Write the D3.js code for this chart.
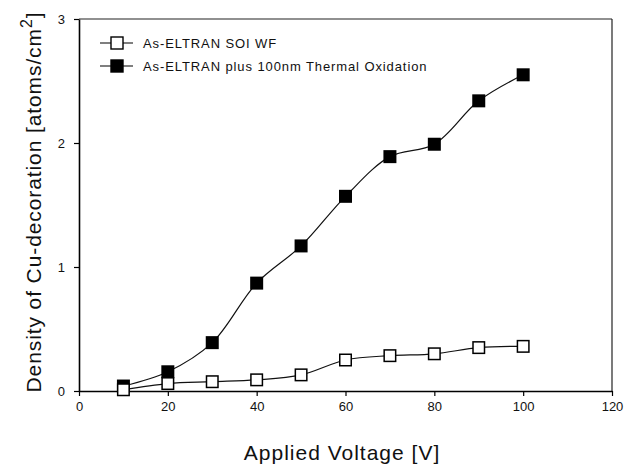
<!DOCTYPE html>
<html>
<head>
<meta charset="utf-8">
<script src="https://cdn.jsdelivr.net/npm/d3@7"></script>
<style>
  body { margin: 0; background: #fff; }
  svg { display: block; font-family: "Liberation Sans", Arial, sans-serif; }
</style>
</head>
<body>
<script>
// voltages and Cu-decoration densities
var voltages = [10, 20, 30, 40, 50, 60, 70, 80, 90, 100];
var soiWf = [0.01, 0.06, 0.075, 0.09, 0.13, 0.25, 0.285, 0.30, 0.35, 0.36];
var thermalOx = [0.04, 0.155, 0.39, 0.87, 1.17, 1.57, 1.89, 1.99, 2.34, 2.55];
var xTicks = [0, 20, 40, 60, 80, 100, 120];
var yTicks = [0, 1, 2, 3];
var seriesNames = ["As-ELTRAN SOI WF", "As-ELTRAN plus 100nm Thermal Oxidation"];

var W = 640, H = 466;
var margin = { left: 79, right: 28, top: 19, bottom: 75 };

var svg = d3.select("body").append("svg")
    .attr("width", W)
    .attr("height", H);

var x = d3.scaleLinear().domain([0, 120]).range([margin.left, W - margin.right]);
var y = d3.scaleLinear().domain([0, 3]).range([H - margin.bottom, margin.top]);

// frame (top / right are thinner)
svg.append("line")
    .attr("x1", x(0)).attr("x2", x(120))
    .attr("y1", y(3)).attr("y2", y(3))
    .attr("stroke", "#222").attr("stroke-width", 1.2);
svg.append("line")
    .attr("x1", x(120)).attr("x2", x(120))
    .attr("y1", y(3)).attr("y2", y(0))
    .attr("stroke", "#222").attr("stroke-width", 1.2);

var xAxis = svg.append("g")
    .attr("transform", "translate(0," + y(0) + ")")
    .call(d3.axisBottom(x).tickValues(xTicks).tickFormat(d3.format("d"))
        .tickSize(5).tickPadding(6).tickSizeOuter(0));
var yAxis = svg.append("g")
    .attr("transform", "translate(" + x(0) + ",0)")
    .call(d3.axisLeft(y).tickValues(yTicks).tickFormat(d3.format("d"))
        .tickSize(5).tickPadding(9).tickSizeOuter(0));

[xAxis, yAxis].forEach(function (g) {
    g.select(".domain").attr("stroke", "#000").attr("stroke-width", 1.6);
    g.selectAll(".tick line").attr("stroke", "#000").attr("stroke-width", 1.2);
    g.selectAll(".tick text")
        .attr("fill", "#111")
        .style("font-size", "13px")
        .style("font-family", "'Liberation Sans', Arial, sans-serif");
});

var line = d3.line()
    .x(function (d) { return x(d[0]); })
    .y(function (d) { return y(d[1]); })
    .curve(d3.curveCatmullRom.alpha(0.5));

var dataOpen = voltages.map(function (v, i) { return [v, soiWf[i]]; });
var dataFilled = voltages.map(function (v, i) { return [v, thermalOx[i]]; });

svg.append("path").datum(dataFilled)
    .attr("d", line).attr("fill", "none")
    .attr("stroke", "#111").attr("stroke-width", 1.2);
svg.append("path").datum(dataOpen)
    .attr("d", line).attr("fill", "none")
    .attr("stroke", "#111").attr("stroke-width", 1.2);

var sz = 13;
svg.selectAll("rect.filled")
    .data(dataFilled)
    .enter()
    .append("rect")
    .attr("class", "filled")
    .attr("x", function (d) { return x(d[0]) - sz / 2; })
    .attr("y", function (d) { return y(d[1]) - sz / 2; })
    .attr("width", sz).attr("height", sz)
    .attr("fill", "#000");
svg.selectAll("rect.open")
    .data(dataOpen)
    .enter()
    .append("rect")
    .attr("class", "open")
    .attr("x", function (d) { return x(d[0]) - sz / 2 + 0.75; })
    .attr("y", function (d) { return y(d[1]) - sz / 2 + 0.75; })
    .attr("width", sz - 1.5).attr("height", sz - 1.5)
    .attr("fill", "#fff")
    .attr("stroke", "#000").attr("stroke-width", 1.5);

// legend
var legend = svg.append("g").attr("transform", "translate(100,43)");
seriesNames.forEach(function (name, i) {
    var row = legend.append("g").attr("transform", "translate(0," + (i * 23) + ")");
    row.append("line").attr("x1", 0).attr("x2", 33).attr("y1", 0).attr("y2", 0)
        .attr("stroke", "#000").attr("stroke-width", 1.2);
    row.append("rect")
        .attr("x", 11).attr("y", -6).attr("width", 12).attr("height", 12)
        .attr("fill", i === 0 ? "#fff" : "#000")
        .attr("stroke", "#000").attr("stroke-width", 1.4);
    row.append("text")
        .attr("x", 43).attr("y", 5)
        .style("font-size", "13px")
        .style("letter-spacing", "0.9px")
        .attr("fill", "#111")
        .text(name);
});

// axis titles
svg.append("text")
    .attr("x", 342).attr("y", 460)
    .attr("text-anchor", "middle")
    .style("font-size", "21px")
    .style("letter-spacing", "1px")
    .attr("fill", "#111")
    .text("Applied Voltage [V]");

var yt = svg.append("text")
    .attr("transform", "translate(41,202) rotate(-90)")
    .attr("text-anchor", "middle")
    .style("font-size", "21px")
    .style("letter-spacing", "0.9px")
    .attr("fill", "#111");
yt.append("tspan").text("Density of Cu-decoration [atoms/cm");
yt.append("tspan").attr("dy", -9).style("font-size", "16px").text("2");
yt.append("tspan").attr("dy", 9).text("]");
</script>
</body>
</html>
